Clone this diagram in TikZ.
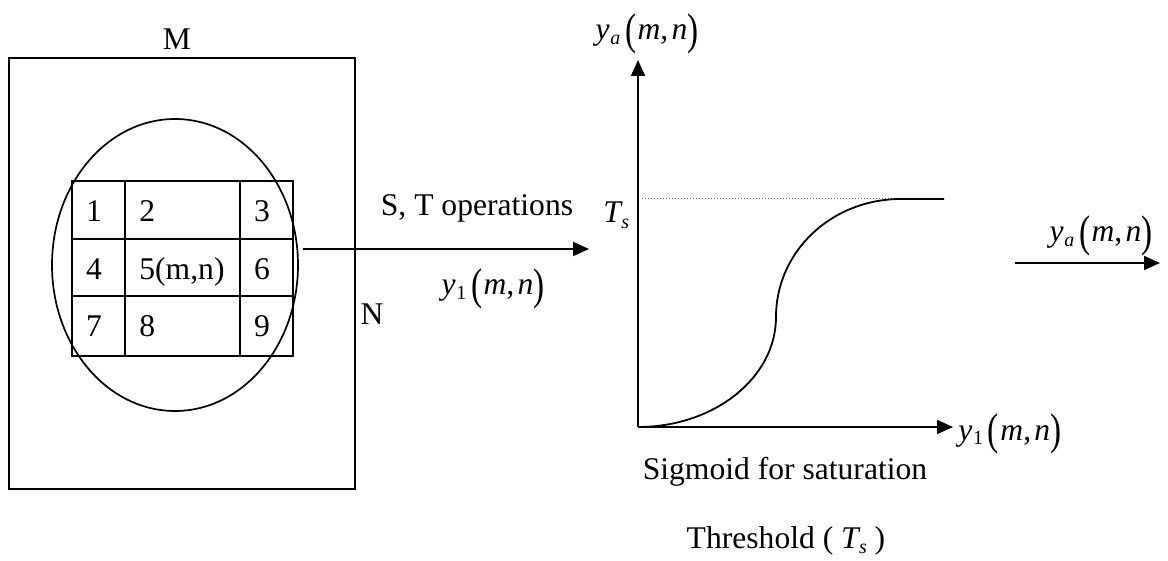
\documentclass[tikz,border=0pt]{standalone}
\usepackage{fontspec}
\setmainfont{Liberation Serif}
\usepackage{graphicx}
\usepackage{tikz}
\usetikzlibrary{arrows.meta, positioning}
\newcommand{\yfun}[1]{\textit{y}\kern0.02em\raisebox{-0.3ex}{\fontsize{10}{10}\selectfont #1}\kern0.15em\raisebox{-0.15em}{\scalebox{1.05}[1.4]{(}}\kern0.05em\textit{m},\kern0.1em\textit{n}\raisebox{-0.15em}{\scalebox{1.05}[1.4]{)}}}
\newcommand{\Ts}{\textit{T}\kern-0.05em\raisebox{-0.35ex}{\fontsize{10}{10}\selectfont\textit{s}}}

\begin{document}
\begin{tikzpicture}[x=0.5pt, y=-0.5pt,
    every node/.style={font=\fontsize{15.8}{19}\selectfont, inner sep=0pt},
    frame/.style={line width=1.3pt},
    axis/.style={line width=1pt, -{Triangle[length=8pt, width=7pt]}}]
    \useasboundingbox (0,0) rectangle (1168,561);

    % Image window
    \draw[frame] (9,58) rectangle (355,489);
    \draw[line width=0.85pt] (175,265) ellipse [x radius=61.5pt, y radius=73pt];
    \draw[frame] (72,181) rectangle (293,356);
    \draw[frame] (125,181) -- (125,356) (240,181) -- (240,356);
    \draw[frame] (72,239) -- (293,239) (72,296) -- (293,296);

    % Labels
    \node[anchor=base] (m) at (177,50) {M};
    \node[anchor=base] (n) at (372,325) {N};
    \node[anchor=base] (c1) at (94,222) {1};
    \node[anchor=base west] (c2) at (139,222) {2};
    \node[anchor=base] (c3) at (262,222) {3};
    \node[anchor=base] (c4) at (94,280) {4};
    \node[anchor=base west] (c5) at (139,280) {5(m,n)};
    \node[anchor=base] (c6) at (262,280) {6};
    \node[anchor=base] (c7) at (94,337) {7};
    \node[anchor=base west] (c8) at (139,337) {8};
    \node[anchor=base] (c9) at (262,337) {9};

    % Arrow to sigmoid
    \coordinate (win) at (303,249);
    \coordinate (sig) at (589,249);
    \draw[axis] (win) -- (sig);
    \node[anchor=base] (ops) at (477,216) {S, T operations};
    \node[anchor=base] (yin) at (493,295) {\yfun{1}};

    % Axes
    \coordinate (o) at (638,427);
    \coordinate (ytip) at (638,60);
    \coordinate (xtip) at (953,427);
    \draw[axis] (o) -- (ytip);
    \draw[axis] (o) -- (xtip);
    \node[anchor=base] (ylab) at (647,40) {\yfun{\textit{a}}};
    \node[anchor=base west] (xlab) at (958,440) {\yfun{1}};
    \node[anchor=base west] (ts) at (603,223) {\Ts};

    % Sigmoid curve
    \coordinate (knee) at (776,317);
    \coordinate (sat) at (901,199);
    \coordinate (flat) at (944,199);
    \draw[densely dotted, line width=0.5pt, gray!80!black] (642,199) -- (sat);
    \draw[line width=0.9pt] (o) .. controls (714,427) and (776,378) .. (knee)
        .. controls (776,252) and (831,199) .. (sat) -- (flat);
    \node[anchor=base] (cap) at (785,480) {Sigmoid for saturation};
    \node[anchor=base] (thr) at (786,548) {Threshold ( \Ts\ )};

    % Output arrow
    \coordinate (src) at (1015,263);
    \coordinate (dst) at (1160,263);
    \draw[axis] (src) -- (dst);
    \node[anchor=base] (yout) at (1101,242) {\yfun{\textit{a}}};
\end{tikzpicture}
\end{document}
